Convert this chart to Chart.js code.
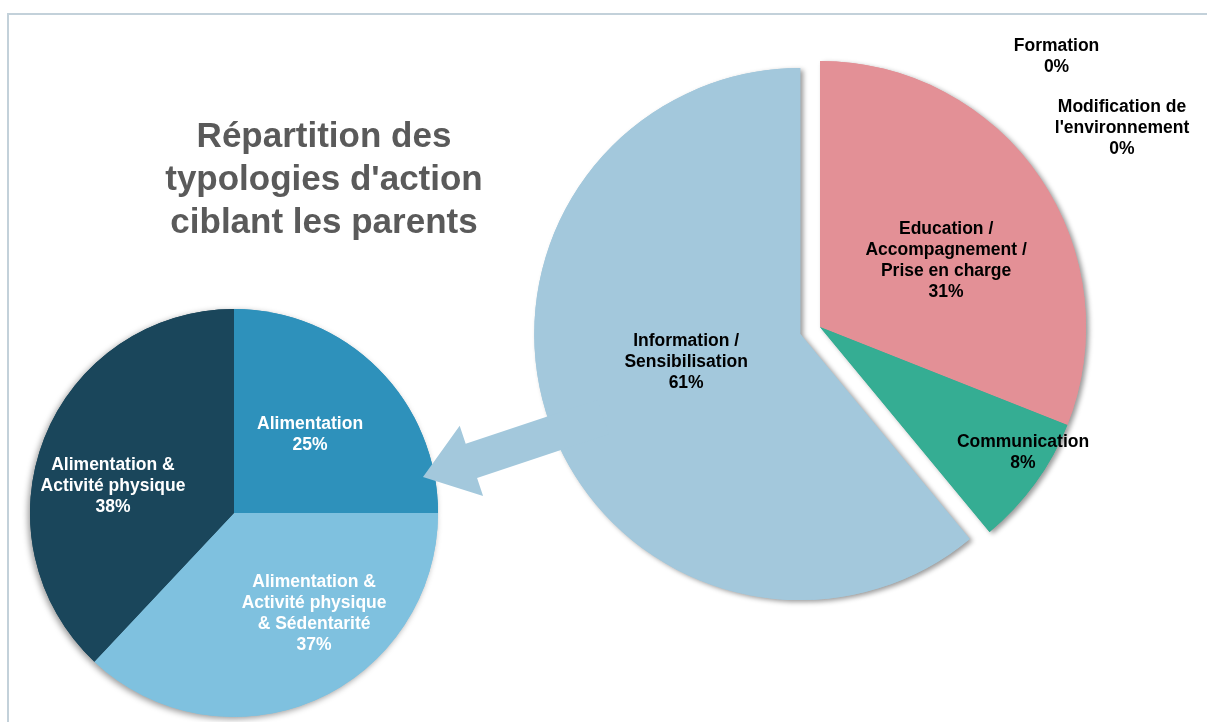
<!DOCTYPE html>
<html>
<head>
<meta charset="utf-8">
<script src="https://cdn.jsdelivr.net/npm/chart.js@4/dist/chart.umd.min.js"></script>
<style>
  html, body { margin: 0; padding: 0; background: #fff; }
  #wrap { position: relative; width: 1207px; height: 722px; overflow: hidden; font-family: "Liberation Sans", Arial, sans-serif; }
  #frame { position: absolute; left: 7px; top: 13px; right: 0; bottom: 0; border-top: 2px solid #c3d1da; border-left: 2px solid #c3d1da; }
  canvas { position: absolute; left: 0; top: 0; }
  #title { position: absolute; left: 124px; width: 400px; top: 113px; text-align: center; font-weight: bold; font-size: 35px; line-height: 43px; color: #5a5a5a; }
</style>
</head>
<body>
<div id="wrap">
  <div id="frame"></div>
  <canvas id="small" width="1207" height="722"></canvas>
  <canvas id="big" width="1207" height="722"></canvas>
  <div id="title">Répartition des<br>typologies d'action<br>ciblant les parents</div>
</div>
<script>
// ---- data ----
const typeLabels = [
    ["Education /", "Accompagnement /", "Prise en charge"],
    ["Communication"],
    ["Information /", "Sensibilisation"],
    ["Formation"],
    ["Modification de", "l'environnement"]
];
const typeValues = [31, 8, 61, 0, 0];

const themeLabels = [
    ["Alimentation"],
    ["Alimentation &", "Activité physique", "& Sédentarité"],
    ["Alimentation &", "Activité physique"]
];
const themeValues = [25, 37, 38];

// ---- styles ----
const typeColors = ["#e39096", "#35ad93", "#a3c8dc", "#8064a2", "#f79646"];
const themeColors = ["#2e91bb", "#7fc1df", "#1a465b"];
const typeExplode = [0, 0, 21, 0, 0];
// label placement: [fraction of radius, angle in degrees clockwise from top]
const typePlace = [[0.535, 62.4], [0.898, 121.8], [0.52, 255.4], [1.35, 41.2], [1.36, 56.6]];
const themePlace = [[0.534, 44.3], [0.632, 141.6], [0.608, 282.6]];
const LABEL_FONT = 'bold 17.5px "Liberation Sans", Arial, sans-serif';
const LINE_H = 21;

function pct(values, i) {
    const total = values.reduce((a, b) => a + b, 0);
    return Math.round(values[i] / total * 100) + "%";
}

// shift exploded slices and lay a soft shadow under the whole pie
function slicePlugin(explode, shadow) {
    return {
        id: "slices",
        beforeDatasetDraw(chart, args) {
            const ctx = chart.ctx;
            const arcs = args.meta.data;
            arcs.forEach((arc, i) => {
                const d = explode[i] || 0;
                arc._home = [arc.x, arc.y];
                if (!d) return;
                const mid = (arc.startAngle + arc.endAngle) / 2;
                arc.x += Math.cos(mid) * d;
                arc.y += Math.sin(mid) * d;
            });
            ctx.save();
            ctx.shadowColor = shadow.color;
            ctx.shadowBlur = shadow.blur;
            ctx.shadowOffsetX = shadow.dx;
            ctx.shadowOffsetY = shadow.dy;
            arcs.forEach(arc => arc.draw(ctx));
            ctx.restore();
        },
        afterDatasetDraw(chart, args) {
            args.meta.data.forEach(arc => {
                if (arc._home) { arc.x = arc._home[0]; arc.y = arc._home[1]; }
            });
        }
    };
}

function labelPlugin(values, place, color) {
    return {
        id: "sliceLabels",
        afterDatasetsDraw(chart) {
            const ctx = chart.ctx;
            const arcs = chart.getDatasetMeta(0).data;
            ctx.save();
            ctx.font = LABEL_FONT;
            ctx.fillStyle = color;
            ctx.textAlign = "center";
            ctx.textBaseline = "middle";
            arcs.forEach((arc, i) => {
                const p = place[i];
                const a = p[1] * Math.PI / 180 - Math.PI / 2;
                const r = arc.outerRadius * p[0];
                const cx = arc.x + Math.cos(a) * r;
                const cy = arc.y + Math.sin(a) * r;
                const lines = [].concat(chart.data.labels[i], pct(values, i));
                lines.forEach((t, k) => {
                    ctx.fillText(t, cx, cy + (k - (lines.length - 1) / 2) * LINE_H);
                });
            });
            ctx.restore();
        }
    };
}

// arrow from the Information slice to the detail pie
const arrowPlugin = {
    id: "arrow",
    afterDatasetsDraw(chart) {
        const ctx = chart.ctx;
        const tip = [423, 477];
        const ang = Math.atan2(-1, 3);
        const len = 190, headLen = 51, headHalf = 37, shaftHalf = 18;
        const u = [Math.cos(ang), Math.sin(ang)];
        const n = [-u[1], u[0]];
        const at = (along, side) => [tip[0] + u[0] * along + n[0] * side, tip[1] + u[1] * along + n[1] * side];
        const pts = [at(0, 0), at(headLen, -headHalf), at(headLen, -shaftHalf), at(len, -shaftHalf),
                     at(len, shaftHalf), at(headLen, shaftHalf), at(headLen, headHalf)];
        ctx.save();
        ctx.fillStyle = typeColors[2];
        ctx.beginPath();
        pts.forEach((p, i) => i ? ctx.lineTo(p[0], p[1]) : ctx.moveTo(p[0], p[1]));
        ctx.closePath();
        ctx.fill();
        ctx.restore();
    }
};

const common = {
    responsive: false,
    animation: false,
    events: [],
    plugins: { legend: { display: false }, tooltip: { enabled: false } }
};

new Chart(document.getElementById("small"), {
    type: "pie",
    data: {
        labels: themeLabels,
        datasets: [{ data: themeValues, backgroundColor: themeColors, borderWidth: 0 }]
    },
    options: Object.assign({}, common, {
        radius: 204,
        layout: { padding: { left: 0, right: 739, top: 304, bottom: 0 } }
    }),
    plugins: [slicePlugin([], { color: "rgba(0,0,0,0.4)", blur: 6, dx: -2, dy: 2 }),
              labelPlugin(themeValues, themePlace, "#ffffff")]
});

new Chart(document.getElementById("big"), {
    type: "pie",
    data: {
        labels: typeLabels,
        datasets: [{ data: typeValues, backgroundColor: typeColors, borderWidth: 0 }]
    },
    options: Object.assign({}, common, {
        radius: 266,
        layout: { padding: { left: 433, right: 0, top: 0, bottom: 68 } }
    }),
    plugins: [slicePlugin(typeExplode, { color: "rgba(0,0,0,0.4)", blur: 5, dx: 3, dy: 2 }),
              arrowPlugin,
              labelPlugin(typeValues, typePlace, "#000000")]
});
</script>
</body>
</html>
